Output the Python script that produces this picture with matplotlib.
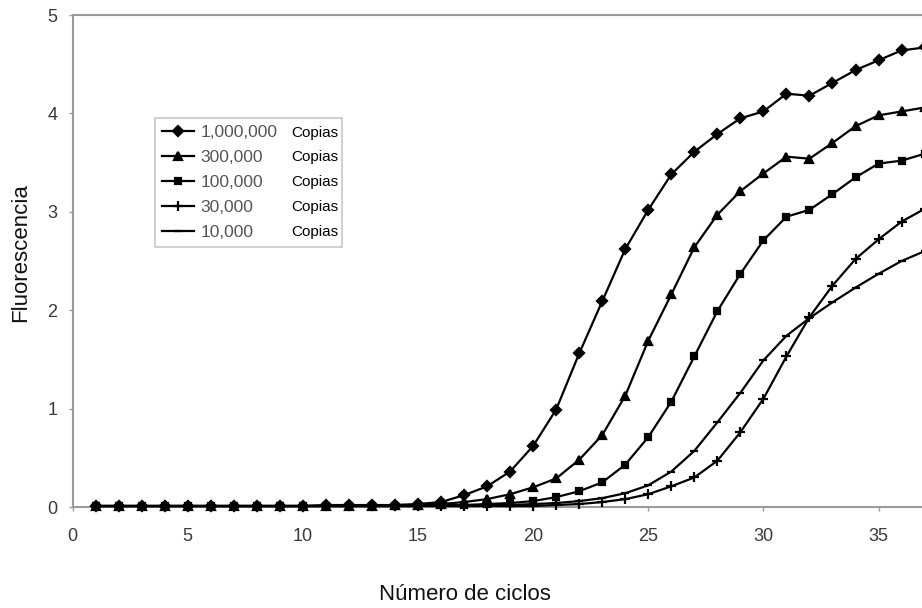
import matplotlib
matplotlib.use("Agg")
import matplotlib.pyplot as plt

plt.rcParams['font.family'] = ['Liberation Sans', 'DejaVu Sans']

# Curvas de amplificacion (fluorescencia por ciclo)
ciclos = list(range(1, 38))

copias = ["1,000,000", "300,000", "100,000", "30,000", "10,000"]

f_1000000 = [0.01, 0.01, 0.01, 0.01, 0.01, 0.01, 0.01, 0.01, 0.01, 0.01,
             0.02, 0.02, 0.02, 0.02, 0.03, 0.05, 0.12, 0.21, 0.36, 0.62,
             0.99, 1.56, 2.09, 2.62, 3.02, 3.38, 3.61, 3.79, 3.95, 4.02,
             4.20, 4.18, 4.31, 4.44, 4.54, 4.64, 4.67]
f_300000 = [0.01, 0.01, 0.01, 0.01, 0.01, 0.01, 0.01, 0.01, 0.01, 0.01,
            0.01, 0.01, 0.01, 0.02, 0.02, 0.03, 0.05, 0.08, 0.13, 0.20,
            0.29, 0.48, 0.73, 1.13, 1.69, 2.16, 2.64, 2.97, 3.21, 3.39,
            3.56, 3.54, 3.70, 3.87, 3.98, 4.02, 4.06]
f_100000 = [0.01, 0.01, 0.01, 0.01, 0.01, 0.01, 0.01, 0.01, 0.01, 0.01,
            0.01, 0.01, 0.01, 0.01, 0.01, 0.02, 0.02, 0.03, 0.04, 0.06,
            0.10, 0.16, 0.25, 0.43, 0.71, 1.07, 1.53, 1.99, 2.37, 2.71,
            2.95, 3.02, 3.18, 3.35, 3.49, 3.52, 3.59]
f_30000 = [0.01, 0.01, 0.01, 0.01, 0.01, 0.01, 0.01, 0.01, 0.01, 0.01,
           0.01, 0.01, 0.01, 0.01, 0.01, 0.01, 0.01, 0.01, 0.01, 0.01,
           0.02, 0.03, 0.05, 0.08, 0.13, 0.21, 0.30, 0.47, 0.76, 1.10,
           1.53, 1.93, 2.25, 2.52, 2.72, 2.90, 3.03]
f_10000 = [0.01, 0.01, 0.01, 0.01, 0.01, 0.01, 0.01, 0.01, 0.01, 0.01,
           0.01, 0.01, 0.01, 0.01, 0.01, 0.01, 0.01, 0.02, 0.02, 0.03,
           0.04, 0.06, 0.09, 0.14, 0.22, 0.36, 0.57, 0.86, 1.16, 1.49,
           1.74, 1.92, 2.08, 2.23, 2.37, 2.50, 2.60]

series = [f_1000000, f_300000, f_100000, f_30000, f_10000]
marcadores = ['D', '^', 's', '+', '_']
tamanos = [5.5, 6, 5, 7, 6]

W, H = 922, 608
fig = plt.figure(figsize=(W / 100, H / 100), dpi=100)
ax = fig.add_axes([72.5 / W, (H - 507) / H, (W - 72.5) / W, 492 / H])

for y, lab, m, ms in zip(series, copias, marcadores, tamanos):
    ax.plot(ciclos, y, color='black', lw=1.6, marker=m, ms=ms, mew=1.6,
            label=lab, clip_on=False, zorder=3)

ax.set_xlim(0, (W - 72.5) / 23.03)
ax.set_ylim(0, 5)
ax.set_xticks(range(0, 40, 5))
ax.set_yticks(range(0, 6))

gris = '#9a9a9a'
for lado in ['left', 'bottom', 'top']:
    ax.spines[lado].set_color(gris)
    ax.spines[lado].set_linewidth(1.5)
ax.spines['right'].set_visible(False)
ax.tick_params(axis='both', colors=gris, length=3, width=1, labelsize=13,
               labelcolor='#3a3a3a')
ax.tick_params(axis='x', pad=12)
ax.tick_params(axis='y', pad=8)

fig.text(21 / W, 1 - 253 / H, "Fluorescencia", rotation=90, fontsize=16,
         ha='center', va='center', color='#111111')
fig.text(465 / W, 1 - 595 / H, "Número de ciclos", fontsize=16,
         ha='center', va='center', color='#111111')

leg = ax.legend(loc='upper left', mode='expand',
                bbox_to_anchor=(155 / W, 1 - 118 / H - 0.01,
                                (342 - 155) / W, 0.01),
                bbox_transform=fig.transFigure, fontsize=12.5,
                handlelength=1.85, handletextpad=0.35, labelspacing=0.56,
                borderpad=0.4, borderaxespad=0, fancybox=False,
                framealpha=1, edgecolor='#c8c8c8')
leg.get_frame().set_linewidth(1.2)
for t in leg.get_texts():
    t.set_color('#555555')

# rotulo "Copias" a la derecha de cada entrada
fig.canvas.draw()
inv = fig.transFigure.inverted()
for t in leg.get_texts():
    bb = t.get_window_extent()
    _, yc = inv.transform((0, (bb.y0 + bb.y1) / 2))
    fig.text(291 / W, yc, "Copias", fontsize=11, ha='left', va='center',
             color='black', zorder=10)

fig.savefig("out.png", dpi=100)
